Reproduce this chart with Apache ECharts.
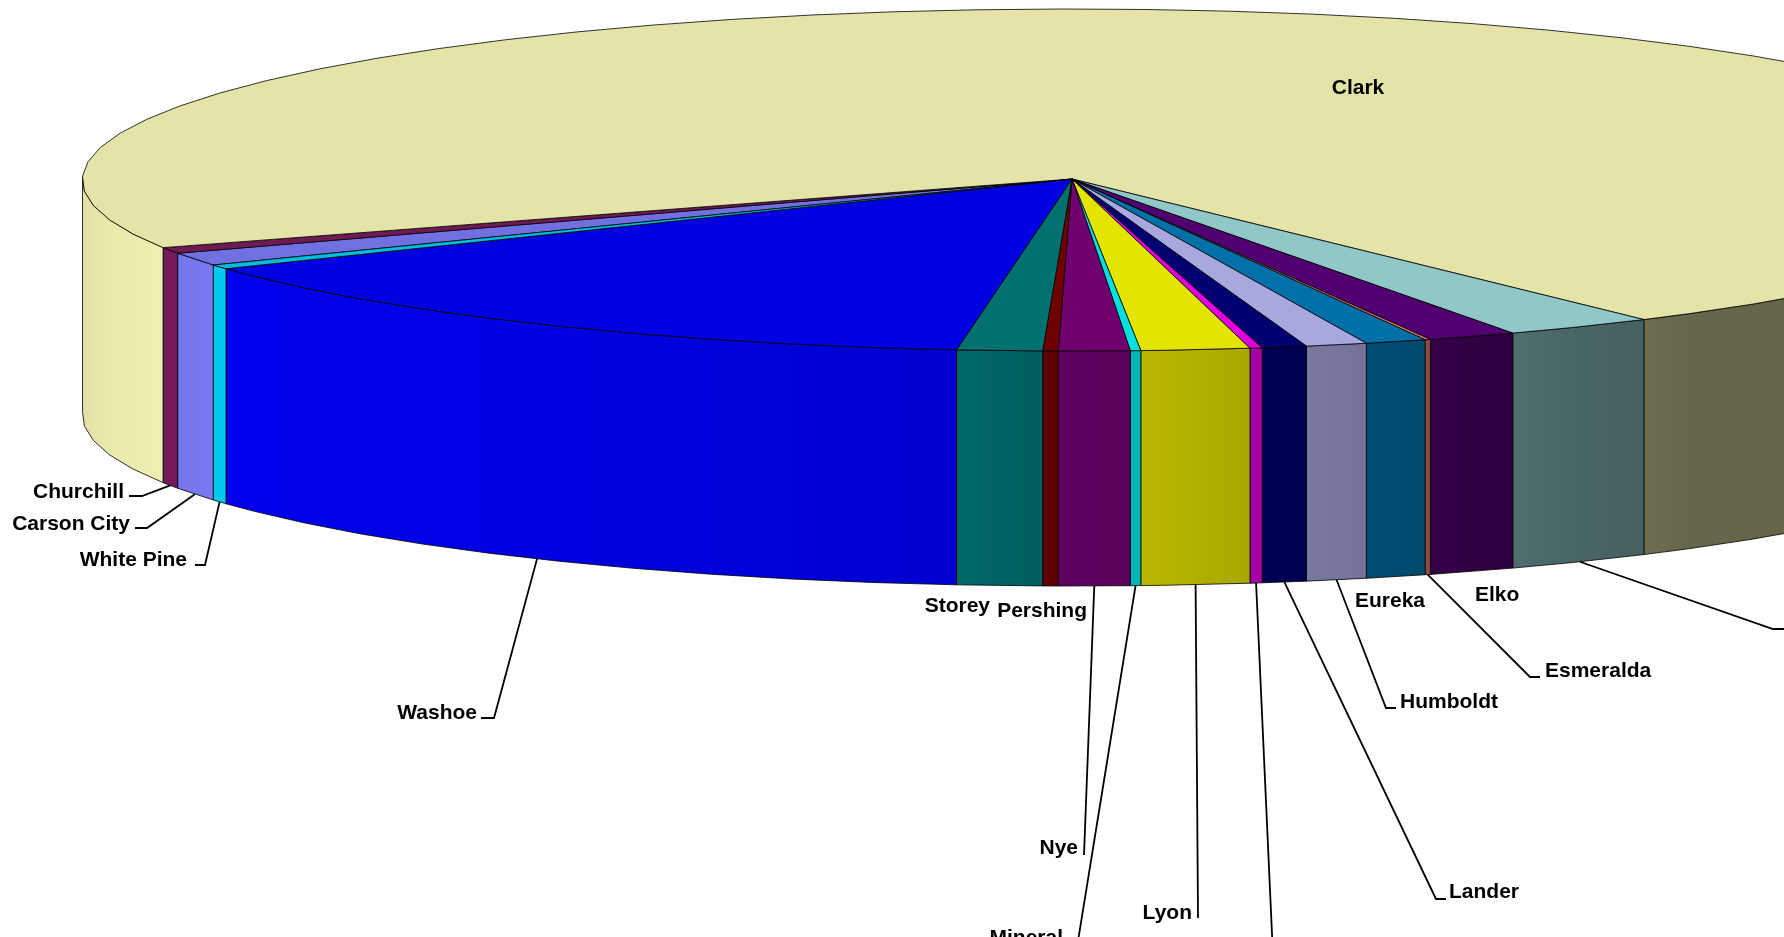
<!DOCTYPE html>
<html>
<head>
<meta charset="utf-8">
<style>html,body{margin:0;padding:0;background:#fff;overflow:hidden}#chart{width:1784px;height:937px}</style>
<script src="https://cdn.jsdelivr.net/npm/echarts@6/dist/echarts.min.js"></script>
</head>
<body>
<div id="chart"></div>
<script>
// ---- data (share of the whole, %) ----
const counties = ['Carson City','Churchill','Clark','Douglas','Elko','Esmeralda','Eureka','Humboldt','Lander','Lincoln','Lyon','Mineral','Nye','Pershing','Storey','Washoe','White Pine'];
const shares   = [1.24,0.57,71.69,2.46,1.45,0.09,1.00,1.00,0.73,0.20,1.77,0.17,1.16,0.25,1.39,14.46,0.40];

// ---- styling ----
const topColors = ['#7070E0','#701A55','#E4E4A8','#90C8C8','#500070','#E07068','#0070A8','#A8A8E0','#000070','#E000E0','#E4E400','#00E0E0','#700070','#700000','#007070','#0000E0','#00BCE0'];
// brightness of the wall, by angle round the pie: [degrees, factor]
const wallLight = [[0,.43],[54,.45],[55,.49],[60,.51],[63.5,.55],[66,.62],[74,.70],[80,.74],[86,.81],[92,.85],[97,.93],[120,1.0],[150,1.07],[160,1.04],[165,1.03],[182,.96],[360,.96]];

// ---- layout of the tilted disc ----
const disc = {apexX:1072, apexY:179, cx:1072, cy:180, rx:989.7, ry:171, depth:235, startDeg:150.18, stepDeg:4.9};

// ---- label placement: text anchor, and optional leader bend ----
const labelPlacement = {
  'Carson City':{x:130,y:524,align:'right',bend:[147,528],end:[135,528]},
  'Churchill':{x:124,y:492,align:'right',bend:[142,496],end:[129,496]},
  'Clark':{x:1358,y:88,align:'center'},
  'Douglas':{x:1790,y:622,align:'left',bend:[1773,629],end:[1784,629]},
  'Elko':{x:1475,y:595,align:'left'},
  'Esmeralda':{x:1545,y:671,align:'left',bend:[1530,677],end:[1540,677]},
  'Eureka':{x:1355,y:601,align:'left'},
  'Humboldt':{x:1400,y:702,align:'left',bend:[1386,708],end:[1396,708]},
  'Lander':{x:1449,y:892,align:'left',bend:[1436,899],end:[1446,899]},
  'Lincoln':{x:1286,y:949,align:'left',bend:[1273,956],end:[1283,956]},
  'Lyon':{x:1192,y:913,align:'right',bend:[1198,918],end:[1198,918]},
  'Mineral':{x:1063,y:938,align:'right',bend:[1078,941],end:[1078,941]},
  'Nye':{x:1078,y:848,align:'right',bend:[1084,855],end:[1084,855]},
  'Pershing':{x:1087,y:611,align:'right'},
  'Storey':{x:990,y:606,align:'right'},
  'Washoe':{x:477,y:713,align:'right',bend:[494,718],end:[481,718]},
  'White Pine':{x:187,y:560,align:'right',bend:[205,565],end:[195,565]}
};

const total = shares.reduce((a,b)=>a+b,0);
const rad = d => d*Math.PI/180;
function sliceAngles(i){
  let before = 0;
  for(let k=0;k<i;k++) before += shares[k];
  return [disc.startDeg + before/total*360, disc.startDeg + (before+shares[i])/total*360];
}
function rimPoint(deg,drop){
  return [disc.cx + disc.rx*Math.cos(rad(deg)), disc.cy + disc.ry*Math.sin(rad(deg)) + (drop||0)];
}
function arcDegrees(a,b){
  const out=[a];
  for(let d=a+disc.stepDeg;d<b-0.05;d+=disc.stepDeg) out.push(d);
  out.push(b);
  return out;
}
function lightAt(deg){
  const d=((deg%360)+360)%360;
  for(let i=1;i<wallLight.length;i++){
    if(d<=wallLight[i][0]){
      const p=wallLight[i-1],q=wallLight[i],t=(d-p[0])/(q[0]-p[0]);
      return p[1]+(q[1]-p[1])*t;
    }
  }
  return 1;
}
function shade(hex,f){
  const n=parseInt(hex.slice(1),16);
  const c=[n>>16&255,n>>8&255,n&255].map(v=>Math.min(255,Math.round(v*f)));
  return 'rgb('+c.join(',')+')';
}
function wallPiece(run,color){
  const upper=run.map(d=>rimPoint(d,0));
  const lower=run.map(d=>rimPoint(d,disc.depth)).reverse();
  const xs=upper.map(p=>p[0]);
  const lo=Math.min.apply(null,xs),hi=Math.max.apply(null,xs),span=(hi-lo)||1;
  const stops=run.map((d,i)=>({offset:(xs[i]-lo)/span,color:shade(color,lightAt(d))})).sort((a,b)=>a.offset-b.offset);
  return {type:'polygon',shape:{points:upper.concat(lower)},
    style:{fill:new echarts.graphic.LinearGradient(0,0,1,0,stops),stroke:'#000',lineWidth:0.8}};
}
function renderFace(params,api){
  const i=params.dataIndex;
  api.value(0);
  const [a,b]=sliceAngles(i);
  const degs=arcDegrees(a,b);
  const children=[];
  // walls: only the part of the rim that faces the viewer
  let run=[];
  degs.forEach(d=>{
    if(Math.sin(rad(d))>-0.05) run.push(d);
    else { if(run.length>1) children.push(wallPiece(run,topColors[i])); run=[]; }
  });
  if(run.length>1) children.push(wallPiece(run,topColors[i]));
  // top face
  const pts=[[disc.apexX,disc.apexY]].concat(degs.map(d=>rimPoint(d,0)));
  children.push({type:'polygon',shape:{points:pts},style:{fill:topColors[i],stroke:'#000',lineWidth:0.8}});
  return {type:'group',children:children};
}
function renderLabel(params,api){
  const i=params.dataIndex, name=counties[i], p=labelPlacement[name];
  const [a,b]=sliceAngles(i);
  const children=[];
  if(p.bend){
    const start=rimPoint((a+b)/2,disc.depth);
    children.push({type:'polyline',shape:{points:[start,p.bend,p.end]},style:{fill:'none',stroke:'#000',lineWidth:1.8}});
  }
  children.push({type:'text',style:{text:name,x:p.x,y:p.y,align:p.align,verticalAlign:'middle',fill:'#000',
    font:'bold 21px "Liberation Sans", Arial, sans-serif'}});
  return {type:'group',children:children};
}

const chart=echarts.init(document.getElementById('chart'),null,{renderer:'canvas'});
chart.setOption({
  animation:false,
  backgroundColor:'#fff',
  series:[
    {type:'custom',name:'Faces',coordinateSystem:'none',silent:true,clip:false,renderItem:renderFace,data:shares,z:1},
    {type:'custom',name:'Labels',coordinateSystem:'none',silent:true,clip:false,renderItem:renderLabel,data:shares,z:2}
  ]
});
</script>
</body>
</html>
